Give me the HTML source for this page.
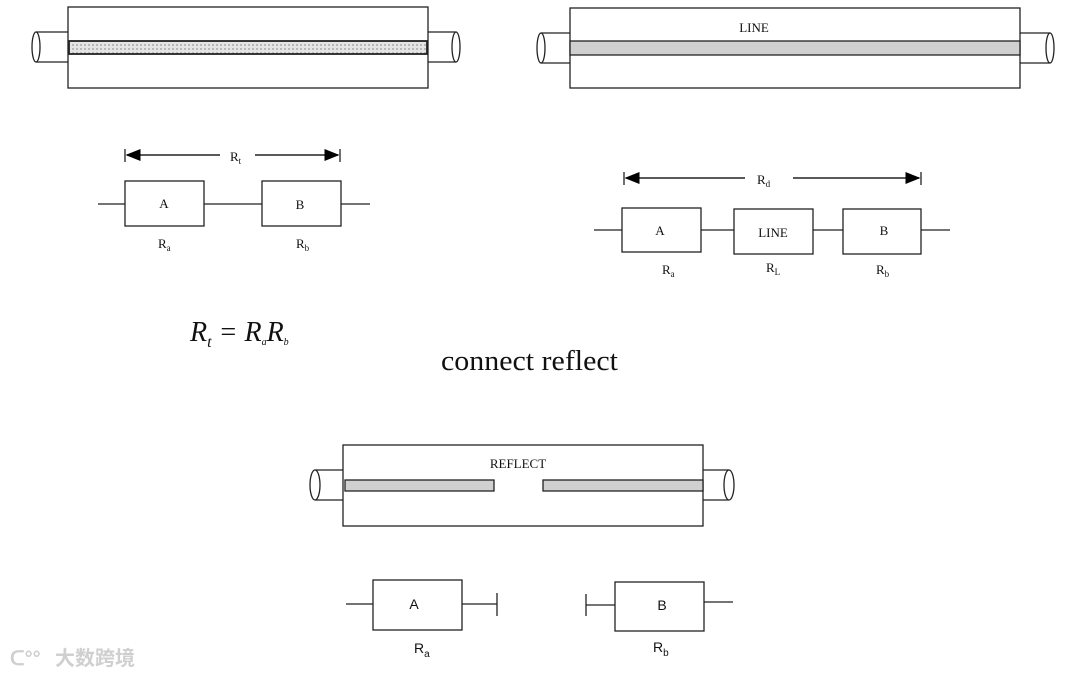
<!DOCTYPE html>
<html><head><meta charset="utf-8"><style>
html,body{margin:0;padding:0;background:#fff;width:1080px;height:676px;overflow:hidden}
svg{display:block}
.s{font-family:"Liberation Serif",serif;fill:#111}
.a{font-family:"Liberation Sans",sans-serif;fill:#111}
</style></head><body>
<svg width="1080" height="676" viewBox="0 0 1080 676" xmlns="http://www.w3.org/2000/svg">
<defs>
<pattern id="pt" width="4" height="4" patternUnits="userSpaceOnUse">
<rect width="4" height="4" fill="#e4e4e4"/><rect width="2" height="2" fill="#b8b8b8"/>
</pattern>
<marker id="ar" markerWidth="10" markerHeight="8" refX="9" refY="4" orient="auto"><path d="M0,0 L10,4 L0,8 z" fill="#000"/></marker>
</defs>
<g stroke="#222" stroke-width="1.3" fill="none">
<rect x="68" y="7" width="360" height="81" fill="#fff"/>
<line x1="36" y1="32" x2="68" y2="32"/><line x1="36" y1="62" x2="68" y2="62"/>
<ellipse cx="36" cy="47" rx="4" ry="15" fill="#fff"/>
<line x1="428" y1="32" x2="456" y2="32"/><line x1="428" y1="62" x2="456" y2="62"/>
<ellipse cx="456" cy="47" rx="4" ry="15" fill="#fff"/>
<rect x="69" y="41" width="358" height="13" fill="url(#pt)" stroke-width="1.8"/>
<rect x="570" y="8" width="450" height="80" fill="#fff"/>
<line x1="541" y1="33" x2="570" y2="33"/><line x1="541" y1="63" x2="570" y2="63"/>
<ellipse cx="541" cy="48" rx="4" ry="15" fill="#fff"/>
<line x1="1020" y1="33" x2="1050" y2="33"/><line x1="1020" y1="63" x2="1050" y2="63"/>
<ellipse cx="1050" cy="48" rx="4" ry="15" fill="#fff"/>
<rect x="570" y="41" width="450" height="14" fill="#d0d0d0"/>
<line x1="125" y1="149" x2="125" y2="162"/><line x1="340" y1="149" x2="340" y2="162"/>
<line x1="220" y1="155" x2="127" y2="155" marker-end="url(#ar)" stroke-width="1.5"/>
<line x1="255" y1="155" x2="338" y2="155" marker-end="url(#ar)" stroke-width="1.5"/>
<rect x="125" y="181" width="79" height="45"/><rect x="262" y="181" width="79" height="45"/>
<line x1="98" y1="204" x2="125" y2="204"/><line x1="204" y1="204" x2="262" y2="204"/><line x1="341" y1="204" x2="370" y2="204"/>
<line x1="624" y1="172" x2="624" y2="185"/><line x1="921" y1="172" x2="921" y2="185"/>
<line x1="745" y1="178" x2="626" y2="178" marker-end="url(#ar)" stroke-width="1.5"/>
<line x1="793" y1="178" x2="919" y2="178" marker-end="url(#ar)" stroke-width="1.5"/>
<rect x="622" y="208" width="79" height="44"/><rect x="734" y="209" width="79" height="45"/><rect x="843" y="209" width="78" height="45"/>
<line x1="594" y1="230" x2="622" y2="230"/><line x1="701" y1="230" x2="734" y2="230"/><line x1="813" y1="230" x2="843" y2="230"/><line x1="921" y1="230" x2="950" y2="230"/>
<rect x="343" y="445" width="360" height="81" fill="#fff"/>
<line x1="315" y1="470" x2="343" y2="470"/><line x1="315" y1="500" x2="343" y2="500"/>
<ellipse cx="315" cy="485" rx="5" ry="15" fill="#fff"/>
<line x1="703" y1="470" x2="729" y2="470"/><line x1="703" y1="500" x2="729" y2="500"/>
<ellipse cx="729" cy="485" rx="5" ry="15" fill="#fff"/>
<rect x="345" y="480" width="149" height="11" fill="#d0d0d0"/>
<rect x="543" y="480" width="160" height="11" fill="#d0d0d0"/>
<rect x="373" y="580" width="89" height="50"/><rect x="615" y="582" width="89" height="49"/>
<line x1="346" y1="604" x2="373" y2="604"/><line x1="462" y1="604" x2="497" y2="604"/><line x1="497" y1="593" x2="497" y2="616"/>
<line x1="586" y1="594" x2="586" y2="616"/><line x1="586" y1="605" x2="615" y2="605"/><line x1="704" y1="602" x2="733" y2="602"/>
</g>
<text x="754" y="32" class="s" font-size="13" text-anchor="middle">LINE</text>
<text x="230" y="161" class="s" font-size="13">R<tspan font-size="9" dy="3">t</tspan></text>
<text x="164" y="208" class="s" font-size="13" text-anchor="middle">A</text>
<text x="300" y="209" class="s" font-size="13" text-anchor="middle">B</text>
<text x="158" y="248" class="s" font-size="13">R<tspan font-size="9" dy="3">a</tspan></text>
<text x="296" y="248" class="s" font-size="13">R<tspan font-size="9" dy="3">b</tspan></text>
<text x="757" y="184" class="s" font-size="13">R<tspan font-size="9" dy="3">d</tspan></text>
<text x="660" y="235" class="s" font-size="13" text-anchor="middle">A</text>
<text x="773" y="237" class="s" font-size="13" text-anchor="middle">LINE</text>
<text x="884" y="235" class="s" font-size="13" text-anchor="middle">B</text>
<text x="662" y="274" class="s" font-size="13">R<tspan font-size="9" dy="3">a</tspan></text>
<text x="766" y="272" class="s" font-size="13">R<tspan font-size="9" dy="3">L</tspan></text>
<text x="876" y="274" class="s" font-size="13">R<tspan font-size="9" dy="3">b</tspan></text>
<text x="190" y="341" class="s" font-size="28" font-style="italic">R<tspan font-size="16" dy="6">t</tspan><tspan dy="-6"> = R</tspan><tspan font-size="10" dy="4">a</tspan><tspan dy="-4">R</tspan><tspan font-size="10" dy="4">b</tspan></text>
<text x="441" y="370" class="s" font-size="28" textLength="177" lengthAdjust="spacingAndGlyphs">connect reflect</text>
<text x="518" y="468" class="s" font-size="13" text-anchor="middle">REFLECT</text>
<text x="414" y="609" class="a" font-size="14" text-anchor="middle">A</text>
<text x="662" y="610" class="a" font-size="14" text-anchor="middle">B</text>
<text x="414" y="653" class="a" font-size="14">R<tspan font-size="10" dy="4">a</tspan></text>
<text x="653" y="652" class="a" font-size="14">R<tspan font-size="10" dy="4">b</tspan></text>
<text x="55" y="665" font-family="'Liberation Sans','Noto Sans CJK SC',sans-serif" font-size="20" font-weight="bold" fill="#cfcfcf">大数跨境</text>
<text x="10" y="665" font-family="'Liberation Sans',sans-serif" font-size="20" font-weight="bold" fill="#cfcfcf">ᑕ°°</text>
</svg>
</body></html>
